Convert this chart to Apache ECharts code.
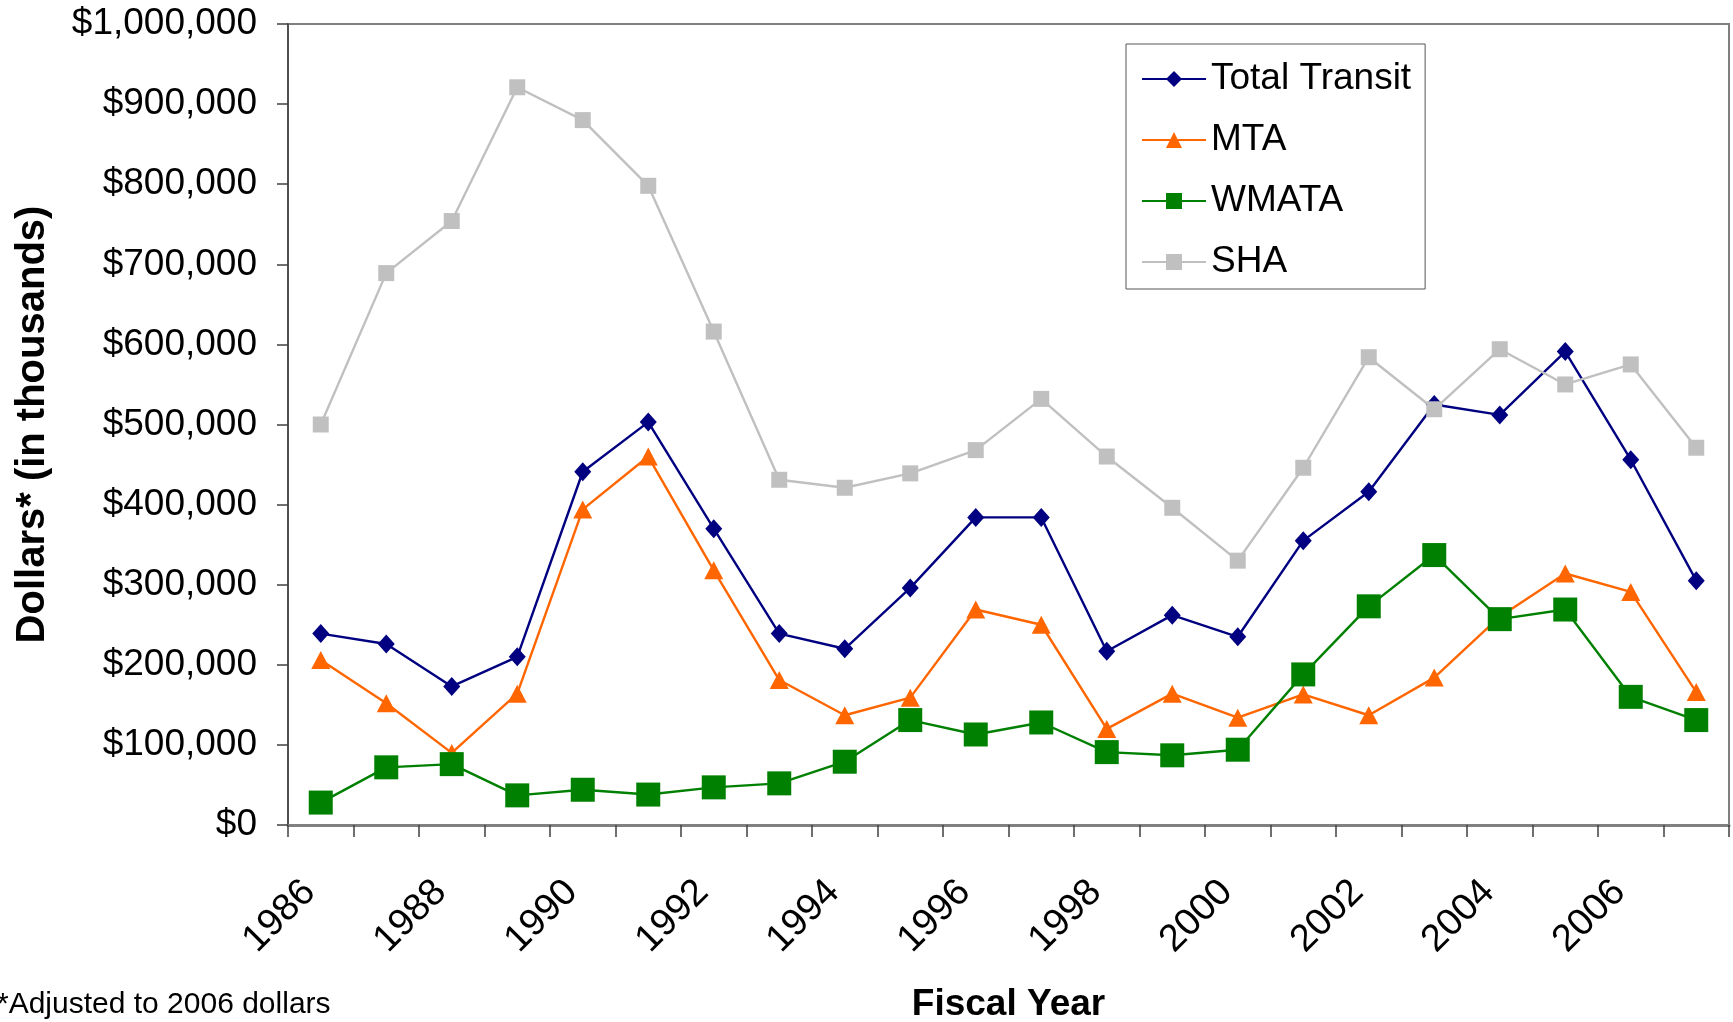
<!DOCTYPE html>
<html>
<head>
<meta charset="utf-8">
<script src="https://cdn.jsdelivr.net/npm/echarts@6/dist/echarts.min.js"></script>
<style>
  html, body { margin: 0; padding: 0; background: #fff; }
  #chart { width: 1733px; height: 1022px; }
</style>
</head>
<body>
<div id="chart"></div>
<script>
// 年份（横轴）
const years = ['1986', '1987', '1988', '1989', '1990', '1991', '1992', '1993', '1994', '1995', '1996',
               '1997', '1998', '1999', '2000', '2001', '2002', '2003', '2004', '2005', '2006', '2007'];

// 各系列数据（千美元，2006年美元）
const totalTransit = [239000, 226000, 173000, 210000, 441000, 503000, 370000, 239000, 220000, 296000, 384000,
                      384000, 217000, 262000, 235000, 355000, 416000, 525000, 512000, 591000, 456000, 305000];
const mta = [206000, 152000, 90000, 164000, 394000, 460000, 318000, 181000, 137000, 159000, 269000,
             250000, 120000, 164000, 134000, 163000, 137000, 184000, 260000, 314000, 291000, 166000];
const wmata = [28000, 72000, 76000, 37000, 44000, 38000, 47000, 52000, 79000, 131000, 113000,
               128000, 91000, 87000, 94000, 188000, 273000, 337000, 257000, 269000, 160000, 131000];
const sha = [500000, 689000, 754000, 921000, 880000, 798000, 616000, 431000, 421000, 439000, 468000,
             532000, 460000, 396000, 330000, 446000, 584000, 519000, 594000, 550000, 575000, 471000];

const FONT = "'Liberation Sans', Arial, sans-serif";

const chart = echarts.init(document.getElementById('chart'));

// 千分位格式
function money(v) {
    return '$' + String(v).replace(/\B(?=(\d{3})+(?!\d))/g, ',');
}

function lineSeries(name, data, color, symbol, size) {
    return {
        name: name,
        type: 'line',
        data: data,
        symbol: symbol,
        symbolSize: size,
        lineStyle: { color: color, width: 2.4 },
        itemStyle: { color: color },
        emphasis: { disabled: true },
        animation: false
    };
}

const option = {
    backgroundColor: '#fff',
    textStyle: { fontFamily: FONT },
    grid: {
        left: 288,
        right: 4,
        top: 24,
        bottom: 197,
        outerBoundsMode: 'none',
        containLabel: false,
        show: true,
        borderColor: '#808080',
        borderWidth: 2
    },
    legend: {
        orient: 'vertical',
        left: 1126,
        top: 44,
        padding: [15, 14, 7, 15],
        itemWidth: 64,
        itemHeight: 20,
        itemGap: 21,
        borderColor: '#555',
        borderWidth: 1,
        backgroundColor: '#fff',
        textStyle: { fontSize: 37, color: '#000', fontFamily: FONT, lineHeight: 40 },
        data: ['Total Transit', 'MTA', 'WMATA', 'SHA']
    },
    xAxis: {
        type: 'category',
        data: years,
        boundaryGap: true,
        name: 'Fiscal Year',
        nameLocation: 'middle',
        nameGap: 161,
        nameTextStyle: { fontSize: 37, fontWeight: 'bold', color: '#000', fontFamily: FONT },
        axisLine: { lineStyle: { color: '#808080', width: 3 } },
        axisTick: { show: true, interval: 0, length: 12, lineStyle: { color: '#404040', width: 1.5 } },
        axisLabel: {
            interval: 1,
            rotate: 45,
            margin: 50,
            padding: [0, 16, 0, 0],
            fontSize: 38,
            color: '#000',
            fontFamily: FONT
        },
        splitLine: { show: false }
    },
    yAxis: {
        type: 'value',
        min: 0,
        max: 1000000,
        interval: 100000,
        name: 'Dollars* (in thousands)',
        nameLocation: 'middle',
        nameGap: 235,
        nameRotate: 90,
        nameTextStyle: { fontSize: 40, fontWeight: 'bold', color: '#000', fontFamily: FONT },
        axisLine: { show: true, lineStyle: { color: '#404040', width: 1.5 } },
        axisTick: { show: true, length: 11, lineStyle: { color: '#404040', width: 1.5 } },
        axisLabel: {
            formatter: money,
            margin: 31,
            fontSize: 37,
            color: '#000',
            fontFamily: FONT
        },
        splitLine: { show: false }
    },
    graphic: [{
        type: 'text',
        left: -3,
        top: 990,
        style: { text: '*Adjusted to 2006 dollars', fontSize: 30, fill: '#000', font: '30px ' + FONT }
    }],
    series: [
        lineSeries('Total Transit', totalTransit, '#000080', 'diamond', [17, 19]),
        lineSeries('MTA', mta, '#FF6600', 'triangle', [19, 18]),
        lineSeries('WMATA', wmata, '#008000', 'rect', 24),
        lineSeries('SHA', sha, '#C0C0C0', 'rect', 16)
    ],
    animation: false
};

chart.setOption(option);

window.addEventListener('resize', function() {
    chart.resize();
});
</script>
</body>
</html>
